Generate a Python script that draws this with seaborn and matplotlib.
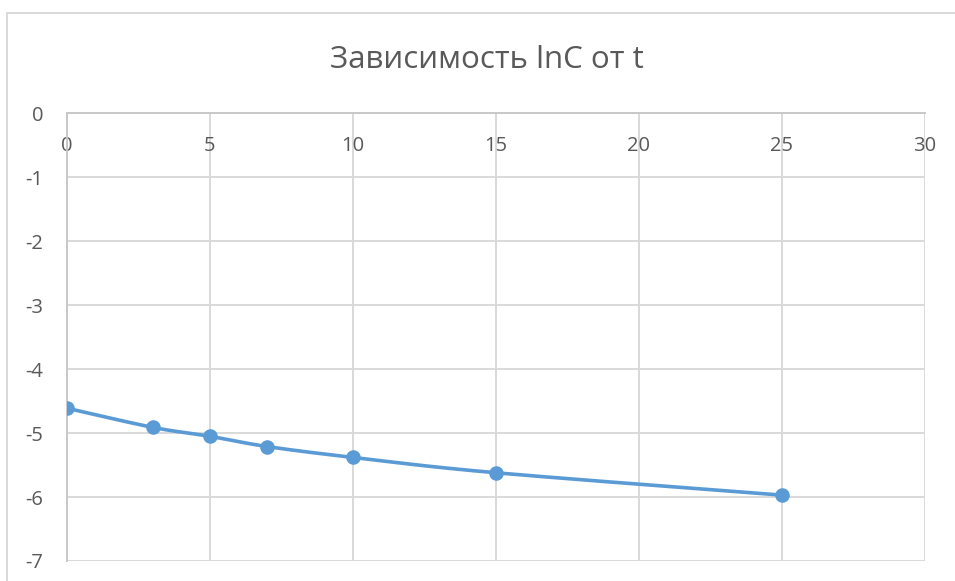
import numpy as np
import pandas as pd
import matplotlib
matplotlib.use("Agg")
import matplotlib.pyplot as plt
from matplotlib.lines import Line2D
import seaborn as sns

# Data: time t and ln of concentration
t_values = [0, 3, 5, 7, 10, 15, 25]
lnc_values = [-4.61, -4.91, -5.05, -5.21, -5.38, -5.62, -5.97]
x_ticks = [0, 5, 10, 15, 20, 25, 30]
y_ticks = [0, -1, -2, -3, -4, -5, -6, -7]
title_text = "Зависимость lnC от t"

sns.set_theme(style="white")
plt.rcParams["font.family"] = ["Open Sans", "DejaVu Sans"]

TEXT = "#595959"
GRID = "#d9d9d9"
AXIS = "#c8c8c8"
LINE = "#5b9bd5"


def smooth_curve(xs, ys, n=40):
    """Catmull-Rom style Bezier smoothing (like a smoothed scatter line)."""
    xs = np.asarray(xs, float)
    ys = np.asarray(ys, float)
    px = np.concatenate([[xs[0]], xs, [xs[-1]]])
    py = np.concatenate([[ys[0]], ys, [ys[-1]]])
    out_x, out_y = [], []
    for i in range(1, len(px) - 2):
        p0 = np.array([px[i - 1], py[i - 1]])
        p1 = np.array([px[i], py[i]])
        p2 = np.array([px[i + 1], py[i + 1]])
        p3 = np.array([px[i + 2], py[i + 2]])
        c1 = p1 + (p2 - p0) / 6.0
        c2 = p2 - (p3 - p1) / 6.0
        s = np.linspace(0, 1, n)[:, None]
        b = ((1 - s) ** 3) * p1 + 3 * ((1 - s) ** 2) * s * c1 + 3 * (1 - s) * s ** 2 * c2 + s ** 3 * p2
        out_x.extend(b[:, 0])
        out_y.extend(b[:, 1])
    return np.array(out_x), np.array(out_y)


df = pd.DataFrame({"t": t_values, "lnC": lnc_values})
cx, cy = smooth_curve(t_values, lnc_values)
curve = pd.DataFrame({"t": cx, "lnC": cy})

fig = plt.figure(figsize=(9.55, 5.81), dpi=100)
ax = fig.add_axes([66.7 / 955, 1 - 561 / 581, (925 - 66.7) / 955, (561 - 113.3) / 581])

sns.lineplot(data=curve, x="t", y="lnC", sort=False, estimator=None, ax=ax,
             color=LINE, linewidth=2.6, zorder=3)
sns.scatterplot(data=df, x="t", y="lnC", ax=ax, color=LINE, s=110,
                edgecolor=LINE, linewidth=0, zorder=4)

ax.set_xlim(0, 30)
ax.set_ylim(-7, 0)
ax.set_xticks(x_ticks)
ax.set_yticks(y_ticks)
ax.set_xticklabels([str(v) for v in x_ticks])
ax.set_yticklabels([str(v) for v in y_ticks])
ax.set_xlabel("")
ax.set_ylabel("")

ax.grid(True, color=GRID, linewidth=1.4)
ax.set_axisbelow(True)
for side in ["right", "bottom"]:
    ax.spines[side].set_visible(False)
for side in ["left", "top"]:
    ax.spines[side].set_color(AXIS)
    ax.spines[side].set_linewidth(1.4)

ax.xaxis.set_ticks_position("top")
ax.tick_params(axis="x", which="both", length=0, labeltop=True, labelbottom=False,
               pad=-31, labelsize=14.5, labelcolor=TEXT)
ax.tick_params(axis="y", length=0, pad=17, labelsize=14.5, labelcolor=TEXT)

# Chart area frame
fig.add_artist(Line2D([7 / 955, 7 / 955], [0, 1 - 13 / 581], transform=fig.transFigure,
                      color=GRID, linewidth=1.4))
fig.add_artist(Line2D([7 / 955, 1], [1 - 13 / 581, 1 - 13 / 581], transform=fig.transFigure,
                      color=GRID, linewidth=1.4))

fig.text(487 / 955, 1 - 60 / 581, title_text, ha="center", va="center",
         fontsize=22.5, color=TEXT)

fig.savefig("out.png", dpi=100, facecolor="white")
